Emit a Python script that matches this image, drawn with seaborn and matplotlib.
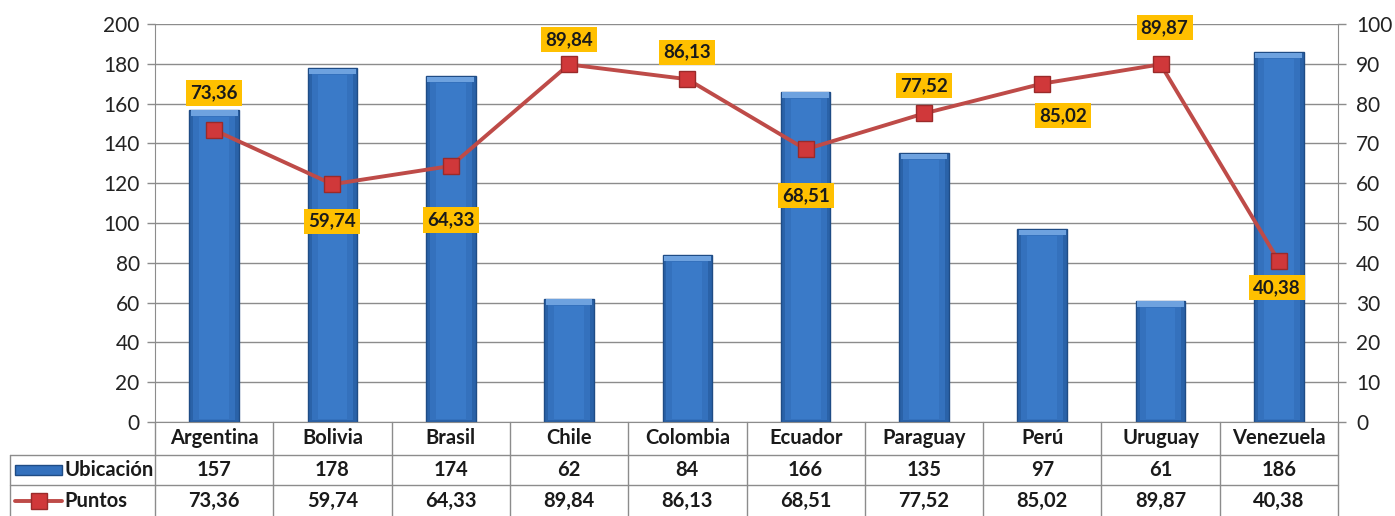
import matplotlib
matplotlib.use("Agg")
import matplotlib.pyplot as plt
import seaborn as sns
import pandas as pd
import numpy as np
from matplotlib.lines import Line2D
from matplotlib.patches import Rectangle

paises = ["Argentina", "Bolivia", "Brasil", "Chile", "Colombia", "Ecuador",
          "Paraguay", "Perú", "Uruguay", "Venezuela"]
ubicacion = [157, 178, 174, 62, 84, 166, 135, 97, 61, 186]
puntos = [73.36, 59.74, 64.33, 89.84, 86.13, 68.51, 77.52, 85.02, 89.87, 40.38]
left_ticks = [0, 20, 40, 60, 80, 100, 120, 140, 160, 180, 200]
right_ticks = [0, 10, 20, 30, 40, 50, 60, 70, 80, 90, 100]

# label offsets in pixels (layout only)
label_offsets = [(0, 37), (0, -37), (0, -54), (0, 25), (0, 27), (0, -46),
                 (0, 28), (21, -32), (4, 37), (-2, -26)]

def fmt(v):
    return f"{v:.2f}".replace(".", ",")

sns.set_style("white")
plt.rcParams["font.family"] = ["Lato", "DejaVu Sans"]

df = pd.DataFrame({"pais": paises, "ubicacion": ubicacion, "puntos": puntos})

W, H = 1395, 516
fig = plt.figure(figsize=(W / 100, H / 100), dpi=100)
L, R, T, B = 155, 1338, 24, 422
ax = fig.add_axes([L / W, 1 - B / H, (R - L) / W, (B - T) / H])

grid_c = "#8c8c8c"
txt_c = "#1a1a1a"
sns.barplot(data=df, x="pais", y="ubicacion", ax=ax, color="#2A62A8",
            width=0.42, edgecolor="#1F4C85", linewidth=1.0, saturation=1)

# bevel / gradient look on bars
for p in list(ax.patches):
    x0, w, h = p.get_x(), p.get_width(), p.get_height()
    z = p.get_zorder()
    ax.add_patch(Rectangle((x0 + w * 0.08, 1.0), w * 0.84, h - 3.5,
                           facecolor="#3471BD", edgecolor="none", zorder=z + 0.1))
    ax.add_patch(Rectangle((x0 + w * 0.2, 1.5), w * 0.6, h - 5.0,
                           facecolor="#3A7AC8", edgecolor="none", zorder=z + 0.15))
    ax.add_patch(Rectangle((x0 + w * 0.03, h - 3.0), w * 0.94, 2.6,
                           facecolor="#6EA2DF", edgecolor="none", zorder=z + 0.2))

ax.set_ylim(0, 200)
ax.set_xlim(-0.5, len(paises) - 0.5)
ax.set_yticks(left_ticks)
ax.yaxis.grid(True, color=grid_c, linewidth=1.0)
ax.set_axisbelow(True)
ax.set_xlabel("")
ax.set_ylabel("")
ax.set_xticks([])
ax.tick_params(axis="y", labelsize=15, length=6, width=1, color=grid_c,
               left=True, pad=5, labelcolor="#222222")
for s in ["top", "right"]:
    ax.spines[s].set_visible(False)
ax.spines["left"].set_color(grid_c)
ax.spines["bottom"].set_color(grid_c)

ax2 = ax.twinx()
sns.pointplot(data=df, x="pais", y="puntos", ax=ax2, color="#BE4B48",
              markers="s", markersize=12, linewidth=2.8, errorbar=None)
for ln in ax2.lines:
    ln.set_markerfacecolor("#D0383A")
    ln.set_markeredgecolor("#9A2A2A")
    ln.set_markeredgewidth(1.0)
ax2.set_ylim(0, 100)
ax2.set_xlim(-0.5, len(paises) - 0.5)
ax2.set_yticks(right_ticks)
ax2.set_xlabel("")
ax2.set_ylabel("")
ax2.tick_params(axis="y", labelsize=15, length=6, width=1, color=grid_c,
                right=True, pad=7, labelcolor="#222222")
for s in ["top", "left", "bottom"]:
    ax2.spines[s].set_visible(False)
ax2.spines["right"].set_color(grid_c)

for i, v in enumerate(puntos):
    dx, dy = label_offsets[i]
    ax2.annotate(fmt(v), (i, v), xytext=(dx, dy), textcoords="offset pixels",
                 ha="center", va="center", fontsize=13.5, fontweight="bold",
                 color=txt_c, zorder=10,
                 bbox=dict(boxstyle="square,pad=0.22", fc="#FFC000", ec="none"))

# data table below
ph = B - T
def ay(px):
    return (B - px) / ph
def axx(px):
    return (px - L) / (R - L)

trans = ax.get_xaxis_transform()
tbl_kw = dict(color=grid_c, linewidth=1.0, clip_on=False)
for yl in [455, 485]:
    ax.add_line(Line2D([axx(10), 1.0], [ay(yl), ay(yl)], transform=ax.transAxes, **tbl_kw))
for k in range(len(paises) + 1):
    ax.add_line(Line2D([k - 0.5, k - 0.5], [0, ay(516)], transform=trans, **tbl_kw))
ax.add_line(Line2D([axx(10), axx(10)], [ay(455), ay(516)], transform=ax.transAxes, **tbl_kw))

txt_kw = dict(ha="center", va="center", fontsize=14.5, fontweight="bold",
              color=txt_c, transform=trans, clip_on=False)
for i, name in enumerate(paises):
    ax.text(i, ay(438), name, **txt_kw)
    ax.text(i, ay(470), str(ubicacion[i]), **txt_kw)
    ax.text(i, ay(501), fmt(puntos[i]), **txt_kw)

# legend keys in left column
ax.add_patch(Rectangle((axx(15), ay(475)), axx(62) - axx(15), ay(465) - ay(475),
                       transform=ax.transAxes, facecolor="#3471BD",
                       edgecolor="#1F4C85", linewidth=1, clip_on=False))
ax.add_line(Line2D([axx(15), axx(62)], [ay(501), ay(501)], transform=ax.transAxes,
                   color="#BE4B48", linewidth=2.8, clip_on=False))
ax.add_line(Line2D([axx(38.5)], [ay(501)], transform=ax.transAxes, marker="s",
                   markersize=12, markerfacecolor="#D0383A", markeredgecolor="#9A2A2A",
                   clip_on=False))
ax.text(axx(64), ay(470), "Ubicación", ha="left", va="center", fontsize=14.5,
        fontweight="bold", color=txt_c, transform=ax.transAxes, clip_on=False)
ax.text(axx(64), ay(501), "Puntos", ha="left", va="center", fontsize=14.5,
        fontweight="bold", color=txt_c, transform=ax.transAxes, clip_on=False)

fig.savefig("out.png", dpi=100)
